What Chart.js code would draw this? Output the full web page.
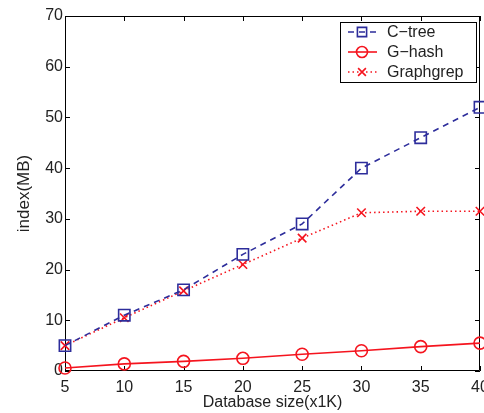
<!DOCTYPE html>
<html>
<head>
<meta charset="utf-8">
<script src="https://cdn.jsdelivr.net/npm/chart.js@4.4.0/dist/chart.umd.min.js"></script>
<style>
  html, body { margin: 0; padding: 0; background: #fff; overflow: hidden; width: 484px; height: 413px; }
  /* a bit wider than the window so the last x label gets cut like in the figure */
  #wrap { width: 491px; height: 413px; position: relative; }
</style>
</head>
<body>
<div id="wrap"><canvas id="lineChart"></canvas></div>
<script>
var sizes = ['5', '10', '15', '20', '25', '30', '35', '40'];
var ctree = [5, 11, 16, 23, 29, 40, 46, 52];
var ghash = [0.6, 1.4, 1.9, 2.5, 3.3, 4.0, 4.8, 5.5];
var graphgrep = [5, 10.5, 15.8, 21, 26.2, 31.2, 31.5, 31.5];
var yMin = 0, yMax = 70, yStep = 10;

var blue = 'rgb(45,45,155)';
var red = 'rgb(245,20,30)';
var fontName = '"Liberation Sans", Arial, Helvetica, sans-serif';

var seriesInfo = [
    { label: 'C\u2212tree', color: blue, dash: [6, 5], style: 'rect', radius: 8, legendRadius: 6.5 },
    { label: 'G\u2212hash', color: red, dash: [], style: 'circle', radius: 6, legendRadius: 5.5 },
    { label: 'Graphgrep', color: red, dash: [1.5, 3], style: 'crossRot', radius: 6, legendRadius: 5.5 }
];
var seriesData = [ctree, ghash, graphgrep];

// box with inward ticks on all four sides, matlab style
var framePlugin = {
    id: 'frame',
    beforeDatasetsDraw: function (chart) {
        var c = chart.ctx, a = chart.chartArea;
        var xs = chart.scales.x, ys = chart.scales.y;
        c.save();
        c.strokeStyle = '#000';
        c.lineWidth = 1;
        c.beginPath();
        c.rect(a.left + 0.5, a.top + 0.5, a.right - a.left - 1, a.bottom - a.top - 1);
        xs.ticks.forEach(function (t, i) {
            var px = Math.round(xs.getPixelForTick(i)) + 0.5;
            c.moveTo(px, a.bottom); c.lineTo(px, a.bottom - 5);
            c.moveTo(px, a.top); c.lineTo(px, a.top + 5);
        });
        ys.ticks.forEach(function (t, i) {
            var py = Math.round(ys.getPixelForTick(i)) + 0.5;
            c.moveTo(a.left, py); c.lineTo(a.left + 5, py);
            c.moveTo(a.right, py); c.lineTo(a.right - 5, py);
        });
        c.stroke();
        c.restore();
    },
    afterDraw: function (chart) {
        var c = chart.ctx;
        var bx = 340, by = 22, bw = 136, bh = 60;
        c.save();
        c.fillStyle = '#fff';
        c.fillRect(bx, by, bw, bh);
        c.strokeStyle = '#000';
        c.lineWidth = 1;
        c.strokeRect(bx + 0.5, by + 0.5, bw, bh);
        seriesInfo.forEach(function (s, i) {
            var y = by + 10 + i * 20;
            c.strokeStyle = s.color;
            c.lineWidth = 1.6;
            c.setLineDash(s.dash);
            c.beginPath();
            c.moveTo(348, y); c.lineTo(377, y);
            c.stroke();
            c.setLineDash([]);
            c.fillStyle = 'rgba(0,0,0,0)';
            Chart.helpers.drawPoint(c, { pointStyle: s.style, radius: s.legendRadius, borderWidth: 1.6 }, 362, y);
            c.fillStyle = '#222';
            c.font = '16px ' + fontName;
            c.textBaseline = 'middle';
            c.textAlign = 'left';
            c.fillText(s.label, 387, y + 1);
        });
        c.restore();
    }
};

var datasets = seriesInfo.map(function (s, i) {
    return {
        label: s.label,
        data: seriesData[i],
        borderColor: s.color,
        borderWidth: 1.6,
        borderDash: s.dash,
        pointStyle: s.style,
        pointRadius: s.radius,
        pointBorderWidth: 1.6,
        pointBorderColor: s.color,
        pointBackgroundColor: 'rgba(0,0,0,0)',
        fill: false,
        tension: 0,
        clip: false
    };
});

var ctx = document.getElementById('lineChart').getContext('2d');
new Chart(ctx, {
    type: 'line',
    data: { labels: sizes, datasets: datasets },
    plugins: [framePlugin],
    options: {
        responsive: true,
        maintainAspectRatio: false,
        animation: false,
        layout: { padding: { top: 16, right: 11, left: 0, bottom: 0 } },
        plugins: { legend: { display: false }, tooltip: { enabled: false } },
        scales: {
            x: {
                grid: { display: false, drawTicks: false },
                border: { display: false },
                ticks: { color: '#222', font: { family: fontName, size: 16 }, padding: 7, maxRotation: 0, autoSkip: false },
                title: { display: true, text: 'Database size(x1K)', color: '#222', font: { family: fontName, size: 16 }, padding: { top: 0, bottom: 1 } },
                afterFit: function (scale) { scale.height = 42; scale.paddingLeft = 0; scale.paddingRight = 0; }
            },
            y: {
                min: yMin,
                max: yMax,
                grid: { display: false, drawTicks: false },
                border: { display: false },
                ticks: { stepSize: yStep, color: '#222', font: { family: fontName, size: 16 }, padding: 2 },
                title: { display: true, text: 'index(MB)', color: '#222', font: { family: fontName, size: 17 }, padding: { top: 14, bottom: 0 } },
                afterFit: function (scale) { scale.width = 65; scale.paddingTop = 0; scale.paddingBottom = 0; }
            }
        }
    }
});
</script>
</body>
</html>
